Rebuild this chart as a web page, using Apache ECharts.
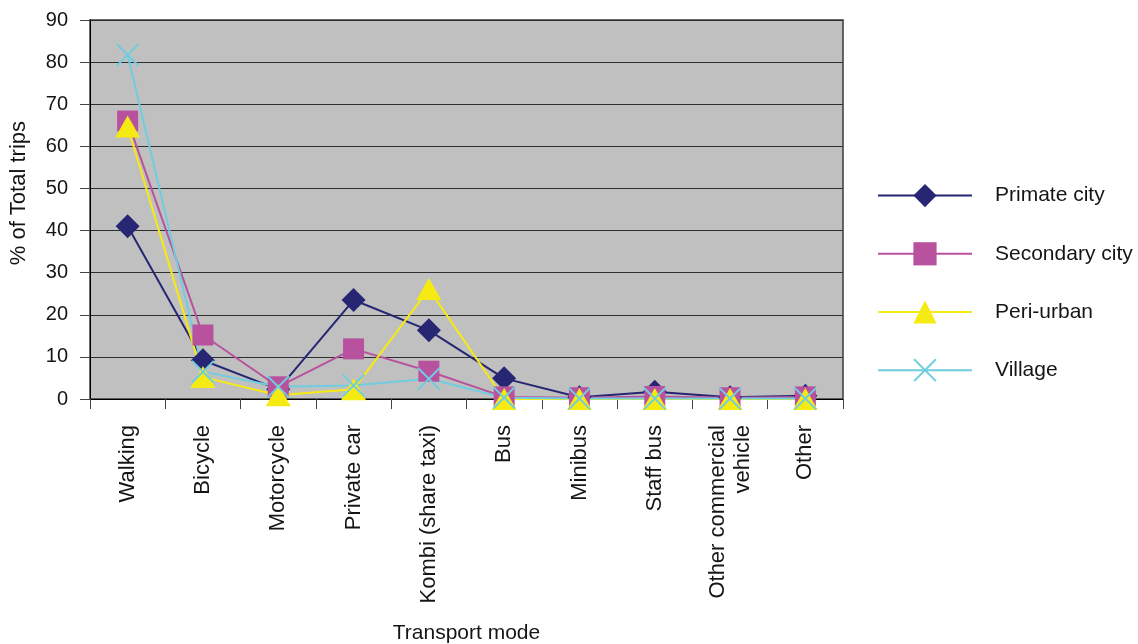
<!DOCTYPE html>
<html>
<head>
<meta charset="utf-8">
<script src="https://cdn.jsdelivr.net/npm/echarts@6/dist/echarts.min.js"></script>
<style>
  html, body { margin: 0; padding: 0; background: #ffffff; }
  #chart { width: 1138px; height: 644px; }
</style>
</head>
<body>
<div id="chart"></div>
<script>
// Share of total trips (%) by transport mode, per settlement type
const categories = ['Walking', 'Bicycle', 'Motorcycle', 'Private car', 'Kombi (share taxi)',
  'Bus', 'Minibus', 'Staff bus', 'Other commercial\nvehicle', 'Other'];
const primateCity   = [41, 9.2, 2.3, 23.5, 16.3, 4.9, 0.4, 1.7, 0.4, 0.8];
const secondaryCity = [66, 15.2, 2.9, 11.9, 6.6, 0.5, 0.3, 0.6, 0.3, 0.5];
const periUrban     = [64.7, 5.2, 0.9, 2.3, 26.1, 0, 0, 0, 0, 0];
const village       = [81.7, 6.5, 2.9, 3.2, 4.8, 0.3, 0.1, 0.1, 0.1, 0.1];
const yTicks = { min: 0, max: 90, interval: 10 };

const FONT = '"Liberation Sans", Arial, sans-serif';
const TEXT = '#151515';
// filled "x" cross marker
const CROSS = 'path://M0,6L6,0L100,94L94,100Z M94,0L100,6L6,100L0,94Z';

function lineSeries(name, data, color, symbol, size, lineColor) {
  return {
    name, type: 'line', data,
    symbol, symbolSize: size,
    clip: false,
    lineStyle: { color: lineColor || color, width: 2 },
    itemStyle: { color },
    emphasis: { disabled: true }
  };
}

const chart = echarts.init(document.getElementById('chart'));
chart.setOption({
  animation: false,
  textStyle: { fontFamily: FONT, color: TEXT },
  grid: {
    left: 90, right: 295, top: 20, bottom: 245,
    outerBoundsMode: 'none', containLabel: false,
    show: true, backgroundColor: '#c0c0c0', borderColor: '#3a3a3a', borderWidth: 1.5
  },
  legend: {
    orient: 'vertical', left: 877, top: 184, padding: 0,
    itemWidth: 94, itemHeight: 29, itemGap: 35,
    textStyle: { fontFamily: FONT, fontSize: 21, color: TEXT, padding: [0, 0, 0, 18] },
    data: ['Primate city', 'Secondary city', 'Peri-urban', 'Village']
  },
  xAxis: {
    type: 'category', data: categories, boundaryGap: true,
    name: 'Transport mode', nameLocation: 'middle', nameGap: 224,
    nameTextStyle: { fontFamily: FONT, fontSize: 21, color: TEXT },
    axisLine: { show: true, lineStyle: { color: '#000', width: 1 } },
    axisTick: { show: true, length: 10, lineStyle: { color: '#444' } },
    axisLabel: { rotate: 90, margin: 26, fontFamily: FONT, fontSize: 22, color: TEXT, lineHeight: 25 },
    splitLine: { show: false }
  },
  yAxis: {
    type: 'value', min: yTicks.min, max: yTicks.max, interval: yTicks.interval,
    axisLine: { show: true, lineStyle: { color: '#000', width: 1 } },
    axisTick: { show: true, length: 10, lineStyle: { color: '#444' } },
    axisLabel: { margin: 22, fontFamily: FONT, fontSize: 20, color: TEXT },
    splitLine: { show: true, lineStyle: { color: '#2e2e2e', width: 1.2 } }
  },
  graphic: [{
    type: 'text', left: 8, top: 121, rotation: Math.PI / 2,
    style: { text: '% of Total trips', font: '22px ' + FONT, fill: TEXT }
  }],
  series: [
    lineSeries('Primate city', primateCity, '#262673', 'diamond', 24),
    lineSeries('Secondary city', secondaryCity, '#b8529e', 'rect', 21),
    lineSeries('Peri-urban', periUrban, '#f5eb12', 'triangle', [25, 22]),
    lineSeries('Village', village, '#6fcde0', CROSS, 23)
  ]
});
</script>
</body>
</html>
